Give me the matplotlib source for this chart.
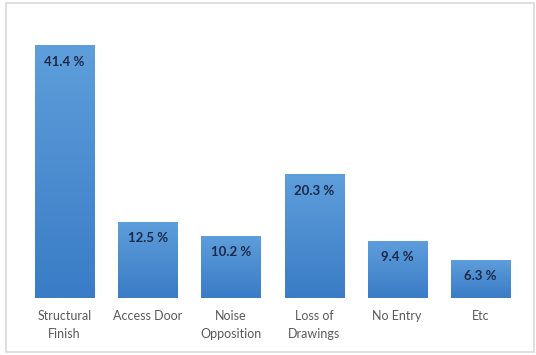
import matplotlib
matplotlib.use("Agg")
import matplotlib.pyplot as plt
import numpy as np
from matplotlib.colors import LinearSegmentedColormap
from matplotlib.patches import Rectangle

categories = ["Structural\nFinish", "Access Door", "Noise\nOpposition",
              "Loss of\nDrawings", "No Entry", "Etc"]
values = [41.4, 12.5, 10.2, 20.3, 9.4, 6.3]
value_labels = ["41.4 %", "12.5 %", "10.2 %", "20.3 %", "9.4 %", "6.3 %"]

plt.rcParams['font.family'] = ['Lato', 'DejaVu Sans']

fig = plt.figure(figsize=(5.36, 3.55), dpi=100)
# light frame around the chart area
fig.patches.append(Rectangle((6/536, 3/355), 528/536, 349/355, transform=fig.transFigure,
                             fill=False, edgecolor="#d9d9d9", linewidth=1.2))

ax = fig.add_axes([23/536, 57/355, 499/536, 276/355])
ymax = 45.2
ax.set_xlim(-0.5, len(values) - 0.5)
ax.set_ylim(0, ymax)

grad = LinearSegmentedColormap.from_list("bar", ["#3a7cc6", "#5e9edb"])
width = 0.71
x = np.arange(len(values))
bars = ax.bar(x, values, width=width, color="none", edgecolor="none")
for b, v in zip(bars, values):
    x0 = b.get_x()
    im = ax.imshow(np.linspace(0, 1, 100).reshape(-1, 1), cmap=grad, origin="lower",
                   extent=[x0, x0 + width, 0, v], aspect="auto", zorder=2)
    im.set_clip_path(b)

for xi, v, lab in zip(x, values, value_labels):
    ax.annotate(lab, (xi, v), xytext=(0, -12), textcoords="offset points",
                ha="center", va="center", fontsize=9.5, fontweight="bold",
                color="#1c2a4a", zorder=3)

ax.set_xticks(x)
ax.set_xticklabels(categories, fontsize=9, color="#595959", linespacing=1.6)
ax.tick_params(axis="x", length=0, pad=9)
ax.set_yticks([])
for s in ax.spines.values():
    s.set_visible(False)

fig.savefig("out.png", dpi=100)
